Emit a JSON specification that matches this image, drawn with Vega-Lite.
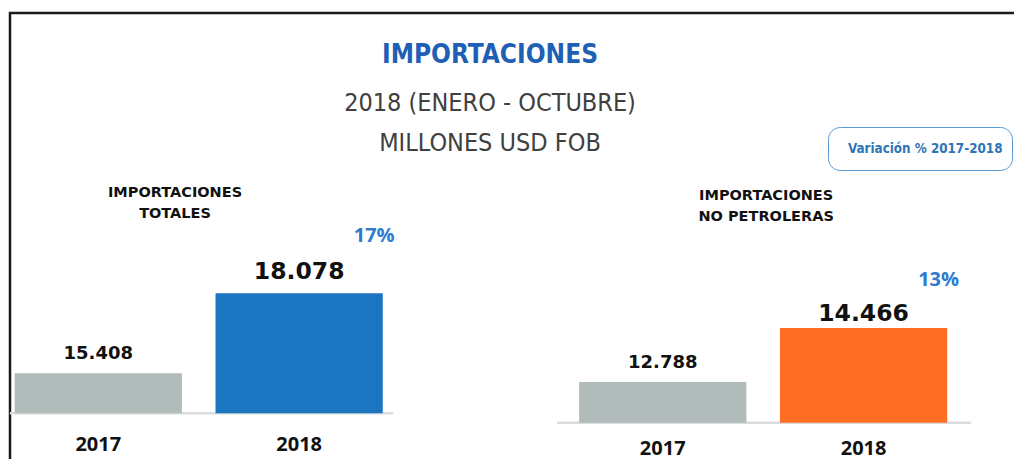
{
  "$schema": "https://vega.github.io/schema/vega-lite/v6.json",
  "width": 1010,
  "height": 452,
  "autosize": {"type": "none"},
  "padding": {"left": 10, "top": 13, "right": 0, "bottom": 0},
  "background": "white",
  "title": {
    "text": "IMPORTACIONES",
    "subtitle": ["2018 (ENERO - OCTUBRE)", "MILLONES USD FOB"],
    "anchor": "middle",
    "frame": "group",
    "offset": -143,
    "dx": -25,
    "font": "Liberation Sans Narrow, DejaVu Sans Condensed, sans-serif",
    "fontSize": 26,
    "fontWeight": "bold",
    "color": "#1f5fb5",
    "subtitleFont": "Liberation Sans Narrow, DejaVu Sans Condensed, sans-serif",
    "subtitleFontSize": 25,
    "subtitleFontWeight": "normal",
    "subtitleColor": "#404040",
    "subtitleLineHeight": 40,
    "subtitlePadding": 23
  },
  "data": {
    "values": [
      {"panel": "IMPORTACIONES\nTOTALES", "year": "2017", "value": 15408, "var": null},
      {"panel": "IMPORTACIONES\nTOTALES", "year": "2018", "value": 18078, "var": 0.17},
      {"panel": "IMPORTACIONES\nNO PETROLERAS", "year": "2017", "value": 12788, "var": null},
      {"panel": "IMPORTACIONES\nNO PETROLERAS", "year": "2018", "value": 14466, "var": 0.13}
    ]
  },
  "resolve": {"scale": {"y": "independent"}},
  "layer": [
    {
      "transform": [{"filter": "indexof(datum.panel, 'PETROLERAS') < 0"}],
      "encoding": {
        "x": {"field": "panel", "type": "nominal", "axis": null,
              "scale": {"domain": ["IMPORTACIONES\nTOTALES", "IMPORTACIONES\nNO PETROLERAS"], "paddingInner": 0.3479, "paddingOuter": 0.06865, "align": 0.0605, "round": false}},
        "y": {"field": "value", "type": "quantitative", "axis": null,
              "scale": {"domain": [12347.6, 27432.9], "zero": false, "nice": false}}
      },
      "layer": [
        {
          "transform": [{"filter": "datum.year === '2017'"}],
          "mark": {"type": "rule", "color": "#d9dcdc", "strokeWidth": 2.5},
          "encoding": {
            "x": {"datum": "IMPORTACIONES\nTOTALES", "bandPosition": -0.013, "axis": null},
            "x2": {"datum": "IMPORTACIONES\nTOTALES", "bandPosition": 1.028},
            "y": {"datum": 14073, "axis": null}
          }
        },
        {
          "mark": {"type": "bar"},
          "encoding": {
            "xOffset": {"field": "year", "type": "nominal", "scale": {"domain": ["2017", "2018"], "paddingInner": 0.1673, "paddingOuter": 0, "round": false}},
            "y2": {"datum": 14073},
            "color": {"condition": {"test": "datum.year === '2017'", "value": "#b1bbba"}, "value": "#1c75c1"}
          }
        },
        {
          "transform": [{"filter": "datum.year === '2017'"}],
          "mark": {"type": "text", "font": "DejaVu Sans", "fontWeight": "bold", "fontSize": 18, "dy": -14, "baseline": "alphabetic", "color": "#111111"},
          "encoding": {
            "xOffset": {"field": "year", "type": "nominal"},
            "text": {"field": "value", "type": "quantitative", "format": ",.0f"}
          }
        },
        {
          "transform": [{"filter": "datum.year === '2018'"}],
          "mark": {"type": "text", "font": "DejaVu Sans", "fontWeight": "bold", "fontSize": 23.5, "dy": -14, "baseline": "alphabetic", "color": "#111111"},
          "encoding": {
            "xOffset": {"field": "year", "type": "nominal"},
            "text": {"field": "value", "type": "quantitative", "format": ",.0f"}
          }
        },
        {
          "mark": {"type": "text", "font": "Open Sans", "fontWeight": "bold", "fontSize": 20, "dy": 37.4, "baseline": "alphabetic", "color": "#111111"},
          "encoding": {
            "xOffset": {"field": "year", "type": "nominal"},
            "y": {"datum": 14073, "axis": null},
            "text": {"field": "year", "type": "nominal"}
          }
        },
        {
          "transform": [{"filter": "datum.year === '2018'"}],
          "mark": {"type": "text", "font": "Open Sans", "fontWeight": "bold", "fontSize": 20, "dx": 75, "dy": -51.3, "baseline": "alphabetic"},
          "encoding": {
            "xOffset": {"field": "year", "type": "nominal"},
            "text": {"field": "var", "type": "quantitative", "format": ".0%"},
            "color": {"datum": "Variación % 2017-2018", "type": "nominal",
                      "scale": {"range": ["#2e7bcf"]},
                      "legend": {"orient": "none", "legendX": 818, "legendY": 114, "title": null,
                                 "labelFont": "Liberation Sans Narrow, DejaVu Sans Condensed, sans-serif",
                                 "labelFontWeight": "bold", "labelFontSize": 13.3, "labelColor": "#2e75b6",
                                 "labelLimit": 400,
                                 "symbolSize": 625, "symbolOpacity": 0, "symbolStrokeWidth": 0, "symbolFillColor": "white",
                                 "padding": 9, "strokeColor": "#5b9bd5", "cornerRadius": 12,
                                 "labelOffset": -14, "fillColor": "white"}}
          }
        },
        {
          "transform": [{"filter": "datum.year === '2017'"}],
          "mark": {"type": "text", "font": "DejaVu Sans", "fontWeight": "bold", "fontSize": 14.5, "lineBreak": "\n", "lineHeight": 21, "baseline": "alphabetic", "align": "center", "dx": -23.7, "color": "#111111"},
          "encoding": {
            "y": {"datum": 21302, "axis": null},
            "text": {"field": "panel", "type": "nominal"}
          }
        }
      ]
    },
    {
      "transform": [{"filter": "indexof(datum.panel, 'PETROLERAS') >= 0"}],
      "encoding": {
        "x": {"field": "panel", "type": "nominal", "axis": null,
              "scale": {"domain": ["IMPORTACIONES\nTOTALES", "IMPORTACIONES\nNO PETROLERAS"], "paddingInner": 0.3479, "paddingOuter": 0.06865, "align": 0.0605, "round": false}},
        "y": {"field": "value", "type": "quantitative", "axis": null,
              "scale": {"domain": [10208.8, 24254.4], "zero": false, "nice": false}}
      },
      "layer": [
        {
          "transform": [{"filter": "datum.year === '2017'"}],
          "mark": {"type": "rule", "color": "#d9dcdc", "strokeWidth": 2.5},
          "encoding": {
            "x": {"datum": "IMPORTACIONES\nNO PETROLERAS", "bandPosition": -0.06, "axis": null},
            "x2": {"datum": "IMPORTACIONES\nNO PETROLERAS", "bandPosition": 1.065},
            "y": {"datum": 11523.4, "axis": null}
          }
        },
        {
          "mark": {"type": "bar"},
          "encoding": {
            "xOffset": {"field": "year", "type": "nominal", "scale": {"domain": ["2017", "2018"], "paddingInner": 0.1673, "paddingOuter": 0, "round": false}},
            "y2": {"datum": 11523.4},
            "color": {"condition": {"test": "datum.year === '2017'", "value": "#b1bbba"}, "value": "#ff6c24"}
          }
        },
        {
          "transform": [{"filter": "datum.year === '2017'"}],
          "mark": {"type": "text", "font": "DejaVu Sans", "fontWeight": "bold", "fontSize": 18, "dy": -14, "baseline": "alphabetic", "color": "#111111"},
          "encoding": {
            "xOffset": {"field": "year", "type": "nominal"},
            "text": {"field": "value", "type": "quantitative", "format": ",.0f"}
          }
        },
        {
          "transform": [{"filter": "datum.year === '2018'"}],
          "mark": {"type": "text", "font": "DejaVu Sans", "fontWeight": "bold", "fontSize": 23.5, "dy": -7, "baseline": "alphabetic", "color": "#111111"},
          "encoding": {
            "xOffset": {"field": "year", "type": "nominal"},
            "text": {"field": "value", "type": "quantitative", "format": ",.0f"}
          }
        },
        {
          "mark": {"type": "text", "font": "Open Sans", "fontWeight": "bold", "fontSize": 20, "dy": 32.5, "baseline": "alphabetic", "color": "#111111"},
          "encoding": {
            "xOffset": {"field": "year", "type": "nominal"},
            "y": {"datum": 11523.4, "axis": null},
            "text": {"field": "year", "type": "nominal"}
          }
        },
        {
          "transform": [{"filter": "datum.year === '2018'"}],
          "mark": {"type": "text", "font": "Open Sans", "fontWeight": "bold", "fontSize": 20, "dx": 75, "dy": -41.7, "baseline": "alphabetic"},
          "encoding": {
            "xOffset": {"field": "year", "type": "nominal"},
            "text": {"field": "var", "type": "quantitative", "format": ".0%"},
            "color": {"datum": "Variación % 2017-2018", "type": "nominal", "scale": {"range": ["#2e7bcf"]}}
          }
        },
        {
          "transform": [{"filter": "datum.year === '2017'"}],
          "mark": {"type": "text", "font": "DejaVu Sans", "fontWeight": "bold", "fontSize": 14.5, "lineBreak": "\n", "lineHeight": 20.7, "baseline": "alphabetic", "align": "center", "dx": 3, "color": "#111111"},
          "encoding": {
            "y": {"datum": 18443, "axis": null},
            "text": {"field": "panel", "type": "nominal"}
          }
        }
      ]
    }
  ],
  "config": {
    "view": {"stroke": "#1a1a1a", "strokeWidth": 2.5},
    "locale": {"number": {"decimal": ",", "thousands": ".", "grouping": [3], "currency": ["$", ""]}}
  }
}
